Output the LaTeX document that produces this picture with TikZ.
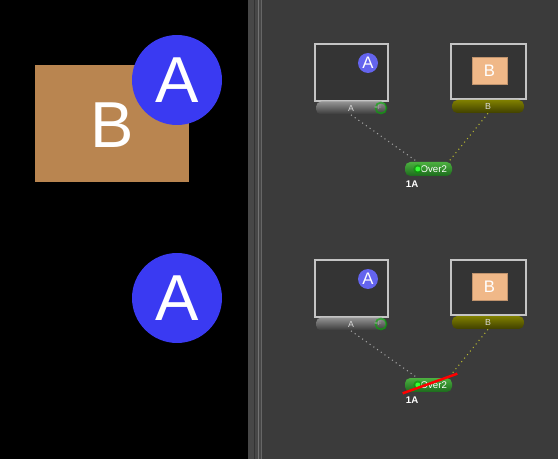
\documentclass[tikz,border=0pt]{standalone}
\usepackage{fontspec}
\setmainfont{Liberation Sans}
\usetikzlibrary{positioning}

\definecolor{panel}{HTML}{3B3B3B}
\definecolor{sepgray}{HTML}{474747}
\definecolor{tanbig}{HTML}{B98550}
\definecolor{tanthumb}{HTML}{F0B888}
\definecolor{blueA}{HTML}{3A3AF2}
\definecolor{bluethumb}{HTML}{6464EE}
\definecolor{thumbline}{HTML}{C4C4C4}
\definecolor{wireyellow}{HTML}{B8B830}
\definecolor{overtop}{HTML}{4CB040}
\definecolor{overbot}{HTML}{1C6A1C}

\tikzset{
  bigletter/.style={text=white, font=\fontsize{37}{40}\selectfont},
  smallletter/.style={text=white, font=\fontsize{9.5}{10}\selectfont},
  thumb/.style={draw=thumbline, line width=0.7pt, fill=black!12!panel, minimum width=1.46cm, minimum height=1.14cm, inner sep=0pt},
  tile/.style={rounded corners=3pt, minimum height=0.26cm, inner sep=0pt, text=white!85!black, font=\fontsize{5}{5}\selectfont},
  tilegray/.style={tile, top color=black!42, bottom color=black!78, minimum width=1.40cm},
  tileolive/.style={tile, top color=olive!75!white!80!black, bottom color=olive!50!black, minimum width=1.44cm},
  tilegreen/.style={tile, top color=overtop, bottom color=overbot, minimum width=0.94cm, minimum height=0.28cm, text=white, font=\fontsize{5.5}{5.5}\selectfont},
  wire/.style={dotted, line width=0.6pt}
}

\begin{document}
\begin{tikzpicture}[x=0.02cm, y=-0.02cm]
 \useasboundingbox (0,0) rectangle (558,459);

    % Background
    \fill[black] (0,0) rectangle (248,459);
    \fill[panel] (248,0) rectangle (558,459);
    \fill[sepgray] (248,0) rectangle (262,459);
    \fill[black!80] (254,0) rectangle (255,459);
    \fill[black!55] (258,0) rectangle (259,459);
    \fill[black!60] (261,0) rectangle (262,459);

    % Viewers
    \fill[tanbig] (35,65) rectangle (189,182);
    \node[bigletter] (bigB) at (112,125) {B};
    \node[circle, fill=blueA, minimum size=1.8cm, bigletter] (bigA) at (177,80) {A};
    \node[circle, fill=blueA, minimum size=1.8cm, bigletter] (bigAlone) at (177,298) {A};

    % Flow
    \foreach \oy/\t in {0/top, 216/bot} {
      \node[thumb] (thumbA-\t) at (351.5,72.5+\oy) {};
      \node[circle, fill=bluethumb, minimum size=0.4cm, inner sep=0pt, smallletter] (dotA-\t) at (368,63+\oy) {A};
      \node[tilegray] (tileA-\t) at (351,108+\oy) {A};
      \draw[green!70!black, line width=1pt, opacity=0.6] (381,108+\oy) circle (5.5);
      \node[font=\fontsize{3.5}{3.5}\selectfont, text=white!70!black] at (378,107+\oy) {=F};

      \node[thumb, minimum width=1.50cm, minimum height=1.10cm] (thumbB-\t) at (488.5,71.5+\oy) {};
      \node[fill=tanthumb, draw=tanthumb!80!black, minimum width=0.70cm, minimum height=0.54cm, inner sep=0pt, smallletter] (rectB-\t) at (489.5,70.5+\oy) {B};
      \node[tileolive] (tileB-\t) at (488,106.5+\oy) {B};

      \node[tilegreen] (over-\t) at (428.5,169+\oy) {\hspace{6pt}Over2};
      \fill[green!60!black, opacity=0.5] ([xshift=7.5]over-\t.west) circle (4.5);
      \fill[green!80!white] ([xshift=7.5]over-\t.west) circle (2.5);
      \node[below right=2.5pt and 0.5pt of over-\t.south west, inner sep=0pt, text=white, font=\bfseries\fontsize{5.5}{6}\selectfont] (lbl-\t) {1A};

      \draw[wire, white!65!black] (tileA-\t.south) -- ([xshift=-6.5]over-\t.north);
      \draw[wire, wireyellow] (tileB-\t.south) -- ([xshift=11.5]over-\t.north);
    }

    % disabled merge
    \draw[red, line width=1.4pt] ([shift={(-2,1)}]over-bot.south west) -- ([shift={(5,-4)}]over-bot.north east);
\end{tikzpicture}
\end{document}
